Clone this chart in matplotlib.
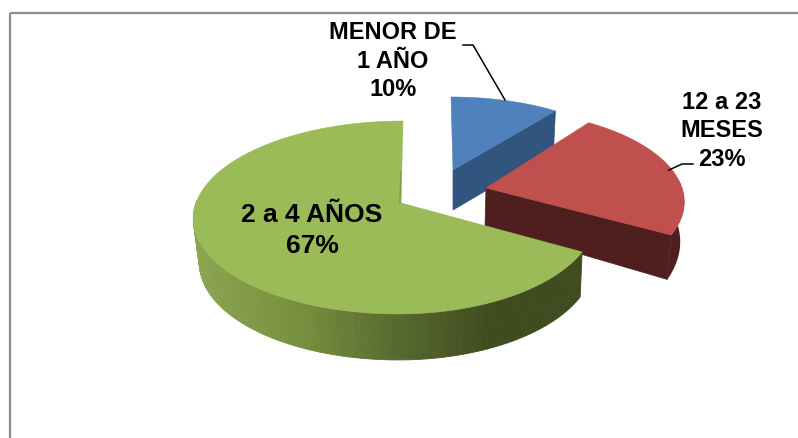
import numpy as np
import matplotlib
matplotlib.use("Agg")
import matplotlib.pyplot as plt
from matplotlib.patches import Polygon, Rectangle
from matplotlib.colors import to_rgb

# ---- data ----
categories = ["MENOR DE\n1 AÑO", "12 a 23\nMESES", "2 a 4 AÑOS"]
percent = [10, 23, 67]

# ---- projection of each exploded slice: top face and bottom face
# (cx, cy, a_left, a_right, b, k, skew)
top_geo = [(453, 171, 177, 177, 73, 0.0, 2.0),
           (486, 189, 196, 196, 90.5, 0.15, 0.0),
           (401, 204, 205, 193, 94.3, 0.15, -2.3)]
bot_geo = [(453, 211, 171, 171, 73, 0.0, 0.0),
           (485, 227, 193, 193, 103, 0.15, 0.0),
           (401, 248, 199, 191, 96, 0.15, -2.3)]
top_col = ["#4f81bd", "#c0504d", "#9bbb59"]
cut_col = ["#32557f", "#4f1e1e", "#3f4c20"]


def project(theta_deg, r, g):
    cx, cy, al, ar, b, k, s = g
    t = np.radians(theta_deg)
    x = r * np.sin(t)
    y = -r * np.cos(t)
    d = 1 - k * y
    a = np.where(x < 0, al, ar)
    return cx + (a * x + s * y) / d, cy + b * y / d


fig = plt.figure(figsize=(7.98, 4.39), dpi=100)
ax = fig.add_axes([0, 0, 1, 1])
ax.set_xlim(0, 798)
ax.set_ylim(439, 0)
ax.axis("off")
plt.rcParams["font.family"] = ["Liberation Sans", "DejaVu Sans"]

ax.add_patch(Rectangle((10, 14), 820, 460, fill=False, ec="#8f8f8f", lw=1.6, zorder=0))

edges = np.concatenate([[0], np.cumsum(percent)]) / np.sum(percent) * 360


def green_wall_colour(x):
    stops_x = [195, 300, 400, 490, 590]
    stops = [to_rgb(c) for c in ["#8ba550", "#76903f", "#57682f", "#3f4c20", "#3f4c20"]]
    return tuple(np.interp(x, stops_x, [s[i] for s in stops]) for i in range(3))


for i, (t0, t1) in enumerate(zip(edges[:-1], edges[1:])):
    tg, bg = top_geo[i], bot_geo[i]
    z = 2 + i
    # outer wall
    if i == 2:
        th = np.arange(t0, 272, 1.5)
        for a0, a1 in zip(th[:-1], th[1:]):
            xt, yt = project(np.array([a0, a1]), 1, tg)
            xb, yb = project(np.array([a1, a0]), 1, bg)
            pts = np.column_stack([np.r_[xt, xb], np.r_[yt, yb]])
            c = green_wall_colour(pts[:, 0].mean())
            ax.add_patch(Polygon(pts, fc=c, ec=c, lw=0.6, zorder=z))
    elif i == 1:
        th = np.linspace(85, t1, 30)
        xt, yt = project(th, 1, tg)
        xb, yb = project(th[::-1], 1, bg)
        ax.add_patch(Polygon(np.column_stack([np.r_[xt, xb], np.r_[yt, yb]]),
                             fc=cut_col[1], ec="none", zorder=z))
    # cut face at the clockwise end of the slice
    if i < 2:
        xt, yt = project(t1, 1, tg)
        xb, yb = project(t1, 1, bg)
        ax.add_patch(Polygon([(tg[0], tg[1]), (xt, yt), (xb, yb), (bg[0], bg[1])],
                             fc=cut_col[i], ec=cut_col[i], lw=0.5, zorder=z))
    # top face
    th = np.linspace(t0, t1, 200)
    xt, yt = project(th, 1, tg)
    ax.add_patch(Polygon(np.column_stack([np.r_[tg[0], xt], np.r_[tg[1], yt]]),
                         fc=top_col[i], ec=top_col[i], lw=0.4, zorder=z))

# thin sliver of the green cut face next to the apex
xs, ys = project(360.0, np.array([0.0, 0.35]), top_geo[2])
ax.plot(xs - 1, ys, color="#7f9a48", lw=1.0, zorder=5)

# leader lines
ax.plot([463, 473, 505], [46, 46, 101], color="black", lw=1.1, zorder=6)
ax.plot([693, 682, 669], [165, 165, 171], color="black", lw=1.1, zorder=6)

# labels
label_pos = [(393, 61, 17, 1.3), (722, 131, 17, 1.3), (312, 230.5, 19, 1.35)]
for cat, p, (x, y, fs, ls) in zip(categories, percent, label_pos):
    ax.text(x, y, f"{cat}\n{p}%", ha="center", va="center", fontsize=fs,
            fontweight="bold", color="black", linespacing=ls, zorder=7,
            family=["Liberation Sans", "DejaVu Sans"])

fig.savefig("out.png", dpi=100, facecolor="white")
